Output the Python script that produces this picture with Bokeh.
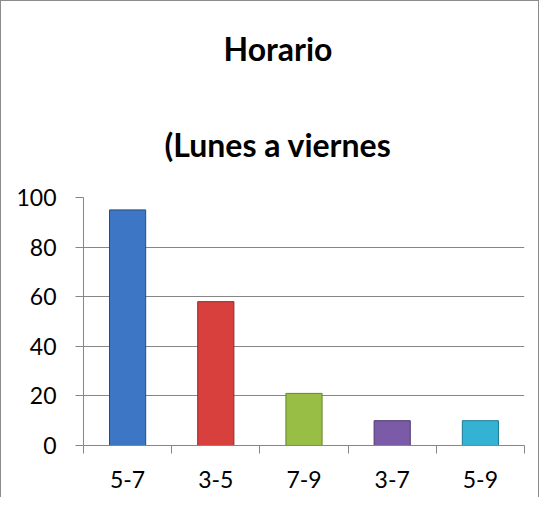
from bokeh.plotting import figure
from bokeh.models import Range1d, FixedTicker, Title, ColumnDataSource
from bokeh.embed import file_html
from bokeh.resources import INLINE

categories = ["5-7", "3-5", "7-9", "3-7", "5-9"]
values = [95, 58, 21, 10, 10]
colors = ["#3d76c4", "#d8403d", "#98be45", "#7b5aa8", "#33b2d4"]
outlines = ["#274a7d", "#8e2826", "#66862c", "#4d3872", "#1d7b96"]
y_ticks = [0, 20, 40, 60, 80, 100]
title_main = "Horario"
title_sub = "(Lunes a viernes"

xc = [i + 0.5 for i in range(len(categories))]
bounds = [i for i in range(len(categories) + 1)]
src = ColumnDataSource(dict(x=xc, top=values, color=colors, line=outlines))

p = figure(width=539, height=497,
           x_range=Range1d(0, len(categories)), y_range=Range1d(0, 100),
           output_backend="svg", toolbar_location=None,
           min_border_left=82, min_border_right=16,
           min_border_top=196, min_border_bottom=53)
p.styles = {"border-left": "1px solid #8c8c8c", "border-top": "1px solid #8c8c8c",
            "border-right": "1px solid #8c8c8c"}
p.outline_line_color = None
p.background_fill_color = "white"
p.border_fill_color = "white"

p.vbar(x="x", top="top", width=0.41, bottom=0, source=src,
       fill_color="color", line_color="line", line_width=1)

grey = "#868686"
font = "Lato"

p.xaxis.ticker = FixedTicker(ticks=xc, minor_ticks=bounds)
p.xaxis.major_label_overrides = {x: c for x, c in zip(xc, categories)}
p.xaxis.major_tick_out = 0
p.xaxis.major_tick_in = 0
p.xaxis.minor_tick_out = 8
p.xaxis.minor_tick_in = 0
p.xaxis.minor_tick_line_color = grey
p.xaxis.major_label_standoff = 17

p.yaxis.ticker = FixedTicker(ticks=y_ticks, minor_ticks=[])
p.yaxis.major_tick_out = 8
p.yaxis.major_tick_in = 0
p.yaxis.major_label_standoff = 19

for ax in (p.xaxis, p.yaxis):
    ax.axis_line_color = grey
    ax.major_tick_line_color = grey
    ax.major_label_text_font = font
    ax.major_label_text_font_size = "23px"
    ax.major_label_text_color = "black"

p.xgrid.visible = False
p.ygrid.ticker = FixedTicker(ticks=y_ticks)
p.ygrid.grid_line_color = grey

t1 = Title(text=title_sub, align="left", offset=81, standoff=68,
           text_font=font, text_font_size="32px", text_font_style="bold",
           text_color="black")
t2 = Title(text=title_main, align="left", offset=140, standoff=42,
           text_font=font, text_font_size="32px", text_font_style="bold",
           text_color="black")
p.add_layout(t1, "above")
p.add_layout(t2, "above")

open("out.html", "w").write(file_html(p, INLINE))
